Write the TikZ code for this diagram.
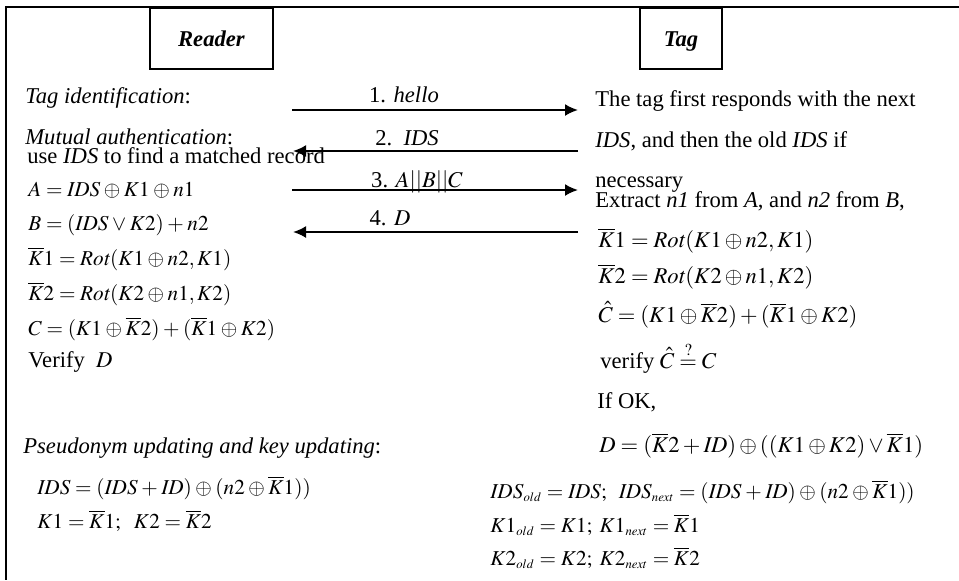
\documentclass[tikz,border=0pt]{standalone}
\usepackage{mathptmx}
\usepackage[no-math]{fontspec}
\setmainfont{Liberation Serif}
\usetikzlibrary{arrows.meta}
\newcommand{\myfs}{\fontsize{11.3}{13.6}\selectfont}
\newcommand{\mysm}{\fontsize{10.6}{12.7}\selectfont\thickmuskip=4mu\medmuskip=3mu}
\newcommand{\Kb}{\overline{K}}
\newcommand{\sso}[1]{{\scriptscriptstyle #1}}
\begin{document}
\begin{tikzpicture}[x=0.5pt,y=-0.5pt,
  txt/.style={anchor=base west, inner sep=0pt, font=\myfs},
  fm/.style={anchor=base west, inner sep=0pt, font=\mysm},
  lbl/.style={anchor=base, inner sep=0pt, font=\myfs},
  hdr/.style={draw, line width=1pt, minimum height=30.5pt, inner sep=0pt, text height=8pt, text depth=0pt, font=\myfs},
  msg/.style={line width=1pt, -{Latex[length=6.5pt,width=6pt]}},
  frame/.style={line width=1pt}]
\useasboundingbox (0,0) rectangle (959,580);
\draw[frame] (959,7) -- (6,7) -- (6,580);
% headers
\node[hdr, minimum width=61.5pt] (reader) at (211.5,38.5) {\textbf{\textit{Reader}}\hspace{11pt}};
\node[hdr, minimum width=41pt] (tag) at (681,38.5) {\textbf{\textit{Tag}}\hspace{5pt}};
% reader side
\node[txt] (tid) at (25,103) {\textit{Tag identification}:};
\node[txt] (mut) at (25,144) {\textit{Mutual authentication}:};
\node[txt] (use) at (27,163) {use \textit{IDS} to find a matched record};
\node[fm] (ra) at (28,196) {$A = \mathit{IDS}\oplus K1\oplus n1$};
\node[fm] (rb) at (28,230) {$B = (\mathit{IDS}\vee K2)+n2$};
\node[fm] (rk1) at (28,265) {$\Kb 1 = \mathit{Rot}(K1\oplus n2, K1)$};
\node[fm] (rk2) at (28,300) {$\Kb 2 = \mathit{Rot}(K2\oplus n1, K2)$};
\node[fm] (rc) at (28,335) {$C = (K1\oplus \Kb 2)+(\Kb 1\oplus K2)$};
\node[txt] (rv) at (28,367) {Verify\ \ $D$};
\node[txt] (pu) at (23,453) {\textit{Pseudonym updating and key updating}:};
\node[fm] (rids) at (37,494) {$\mathit{IDS} = (\mathit{IDS}+\mathit{ID})\oplus(n2\oplus\Kb 1))$};
\node[fm] (rkk) at (37,528) {$K1 = \Kb 1;\ \ K2 = \Kb 2$};
% tag side
\node[txt] (t1) at (595,106) {The tag first responds with the next};
\node[txt] (t2) at (595,147) {\textit{IDS}, and then the old \textit{IDS} if};
\node[txt] (t3) at (595,187) {necessary};
\node[txt] (t4) at (595,207) {Extract \textit{n1} from \textit{A}, and \textit{n2} from \textit{B},};
\node[txt] (tk1) at (598,247) {$\Kb 1 = \mathit{Rot}(K1\oplus n2, K1)$};
\node[txt] (tk2) at (598,283) {$\Kb 2 = \mathit{Rot}(K2\oplus n1, K2)$};
\node[txt] (tc) at (598,322) {$\hat{C} = (K1\oplus\Kb 2)+(\Kb 1\oplus K2)$};
\node[txt] (tv) at (600,368) {verify $\hat{C}\stackrel{?}{=}C$};
\node[txt] (tok) at (597,408) {If OK,};
\node[txt] (td) at (599,452) {$D = (\Kb 2+\mathit{ID})\oplus((K1\oplus K2)\vee\Kb 1)$};
\node[fm] (tids) at (490,498) {$\mathit{IDS}_\sso{old} = \mathit{IDS};\;\; \mathit{IDS}_\sso{next} = (\mathit{IDS}+\mathit{ID})\oplus(n2\oplus\Kb 1))$};
\node[fm] (tk1u) at (490,532) {$K1_\sso{old} = K1;\; K1_\sso{next} = \Kb 1$};
\node[fm] (tk2u) at (490,565) {$K2_\sso{old} = K2;\; K2_\sso{next} = \Kb 2$};
% messages
\coordinate (a1s) at (292,110); \coordinate (a1e) at (578,110);
\coordinate (a2s) at (578,151); \coordinate (a2e) at (293,151);
\coordinate (a3s) at (292,190); \coordinate (a3e) at (578,190);
\coordinate (a4s) at (578,232); \coordinate (a4e) at (293,232);
\draw[msg] (a1s) -- (a1e);
\draw[msg] (a2s) -- (a2e);
\draw[msg] (a3s) -- (a3e);
\draw[msg] (a4s) -- (a4e);
\node[lbl] (l1) at (404,102) {1. \textit{hello}};
\node[lbl] (l2) at (407,145) {2.\ \ \textit{IDS}};
\node[lbl] (l3) at (417,187) {3. $A||B||C$};
\node[lbl] (l4) at (390,225) {4. $D$};
\end{tikzpicture}
\end{document}
